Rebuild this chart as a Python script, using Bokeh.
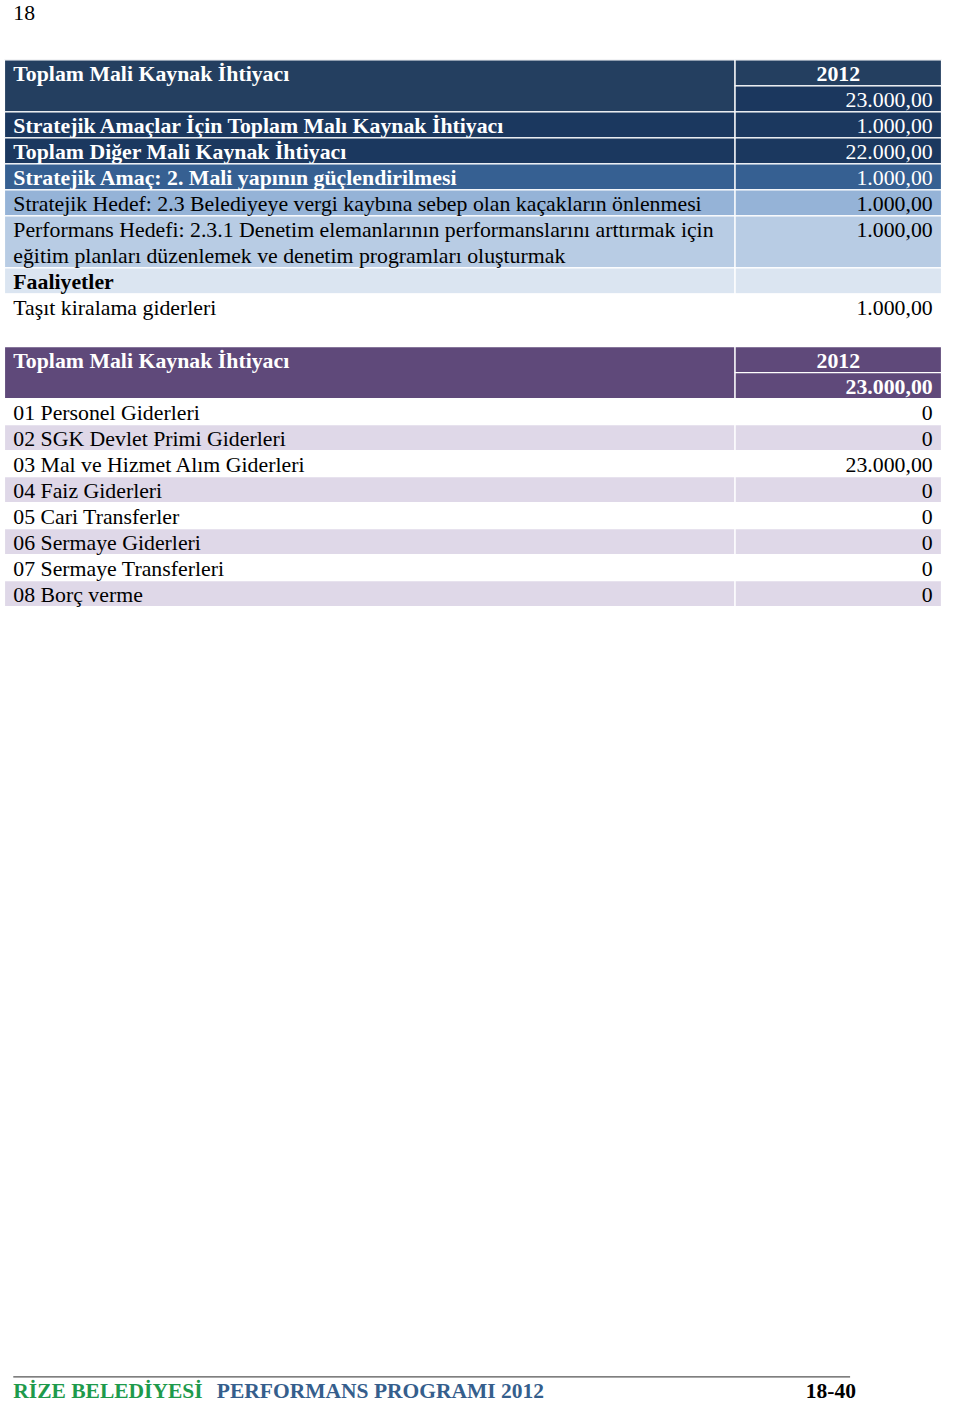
from bokeh.plotting import figure
from bokeh.models import Range1d, ColumnDataSource
from bokeh.core.properties import value
from bokeh.embed import file_html
from bokeh.resources import INLINE

# ---------------- data ----------------
page_number = "18"
year_label = "2012"

t1_header = "Toplam Mali Kaynak İhtiyacı"
t1_total = 23000.0
t1_labels = [
    "Stratejik Amaçlar İçin Toplam Malı Kaynak İhtiyacı",
    "Toplam Diğer Mali Kaynak İhtiyacı",
    "Stratejik Amaç: 2. Mali yapının güçlendirilmesi",
    "Stratejik Hedef: 2.3 Belediyeye vergi kaybına sebep olan kaçakların önlenmesi",
    "Performans Hedefi: 2.3.1 Denetim elemanlarının performanslarını arttırmak için\neğitim planları düzenlemek ve denetim programları oluşturmak",
    "Faaliyetler",
    "Taşıt kiralama giderleri",
]
t1_values = [1000.0, 22000.0, 1000.0, 1000.0, 1000.0, None, 1000.0]

t2_header = "Toplam Mali Kaynak İhtiyacı"
t2_total = 23000.0
t2_labels = [
    "01 Personel Giderleri",
    "02 SGK Devlet Primi Giderleri",
    "03 Mal ve Hizmet Alım Giderleri",
    "04 Faiz Giderleri",
    "05 Cari Transferler",
    "06 Sermaye Giderleri",
    "07 Sermaye Transferleri",
    "08 Borç verme",
]
t2_values = [0, 0, 23000.0, 0, 0, 0, 0, 0]

footer_green = "RİZE BELEDİYESİ"
footer_blue = "PERFORMANS PROGRAMI 2012"
footer_page = "18-40"

# ---------------- styles ----------------
FONT = value("Liberation Serif")
FS = "21.8px"
# per-row style of table 1: (fill, text colour, label weight, rows spanned)
t1_styles = [
    ("#1b385f", "white", "bold", 1),
    ("#1b385f", "white", "bold", 1),
    ("#366092", "white", "bold", 1),
    ("#95b3d7", "black", "normal", 1),
    ("#b8cce4", "black", "normal", 2),
    ("#dbe5f1", "black", "bold", 1),
    ("#ffffff", "black", "normal", 1),
]
HDR1 = "#243f60"
TOT1 = "#1b375e"
HDR2 = "#5f497a"
LAV = "#dfd8e8"

L, M, R = 4, 747, 957
H = 26.3
TX = 13
VX = 948


def fmt(v):
    if v is None:
        return ""
    if v == 0:
        return "0"
    s = f"{v:,.2f}"
    return s.replace(",", "X").replace(".", ",").replace("X", ".")


W, HT = 944, 1405
p = figure(width=W, height=HT, output_backend="svg", toolbar_location=None,
           x_range=Range1d(0, 960), y_range=Range1d(1421, 0),
           min_border=0, outline_line_color=None)
p.axis.visible = False
p.xgrid.visible = False
p.ygrid.visible = False
p.background_fill_color = "white"

cells = dict(left=[], right=[], top=[], bottom=[], fill=[], line=[])
texts = dict(x=[], y=[], text=[], color=[], style=[], align=[])


def cell(l, r, t, b, fill, line="white"):
    cells["left"].append(l)
    cells["right"].append(r)
    cells["top"].append(t)
    cells["bottom"].append(b)
    cells["fill"].append(fill)
    cells["line"].append(line)


def txt(x, y, s, color, style, align="left"):
    texts["x"].append(x)
    texts["y"].append(y)
    texts["text"].append(s)
    texts["color"].append(color)
    texts["style"].append(style)
    texts["align"].append(align)


BL = 11.5  # text anchor offset from cell bottom

# ---- table 1 ----
top = 60
cell(L, M, top, top + 2 * H, HDR1)
cell(M, R, top, top + H, HDR1)
cell(M, R, top + H, top + 2 * H, TOT1)
txt(TX, top + H - BL, t1_header, "white", "bold")
txt((M + R) / 2, top + H - BL, year_label, "white", "bold", "center")
txt(VX, top + 2 * H - BL, fmt(t1_total), "white", "normal", "right")
y = top + 2 * H
for lab, v, (fill, col, wt, span) in zip(t1_labels, t1_values, t1_styles):
    ln = "white" if fill != "#ffffff" else None
    cell(L, M, y, y + span * H, fill, ln)
    cell(M, R, y, y + span * H, fill, ln)
    for k, part in enumerate(lab.split("\n")):
        txt(TX, y + (k + 1) * H - BL, part, col, wt)
    txt(VX, y + H - BL, fmt(v), col, "normal", "right")
    y += span * H

# ---- table 2 ----
top = 350
cell(L, M, top, top + 2 * H, HDR2)
cell(M, R, top, top + H, HDR2)
cell(M, R, top + H, top + 2 * H, HDR2)
txt(TX, top + H - BL, t2_header, "white", "bold")
txt((M + R) / 2, top + H - BL, year_label, "white", "bold", "center")
txt(VX, top + 2 * H - BL, fmt(t2_total), "white", "bold", "right")
y = top + 2 * H
for i, (lab, v) in enumerate(zip(t2_labels, t2_values)):
    if i % 2 == 1:
        cell(L, M, y, y + H, LAV)
        cell(M, R, y, y + H, LAV)
    txt(TX, y + H - BL, lab, "black", "normal")
    txt(VX, y + H - BL, fmt(v), "black", "normal", "right")
    y += H

cs = ColumnDataSource(cells)
p.quad(left="left", right="right", top="top", bottom="bottom", source=cs,
       fill_color="fill", line_color="line", line_width=1.3)

ts = ColumnDataSource(texts)
p.text(x="x", y="y", text="text", source=ts, text_color="color",
       text_font_style="style", text_align="align", text_baseline="alphabetic",
       text_font=FONT, text_font_size=FS)

# page number
p.text(x=[13], y=[12.5], text=[page_number], text_font=FONT, text_font_size="21.7px",
       text_color="black", text_baseline="alphabetic")

# footer
p.segment(x0=[13], y0=[1392], x1=[864], y1=[1392], line_color="#555555", line_width=1.3)
FY = 1406.5
p.text(x=[13], y=[FY], text=[footer_green], text_font=FONT, text_font_size="21.5px",
       text_font_style="bold", text_color="#1e9a4c", text_baseline="alphabetic")
p.text(x=[220], y=[FY], text=[footer_blue], text_font=FONT, text_font_size="21.5px",
       text_font_style="bold", text_color="#355e8c", text_baseline="alphabetic")
p.text(x=[870], y=[FY], text=[footer_page], text_font=FONT, text_font_size="21.5px",
       text_font_style="bold", text_color="black", text_baseline="alphabetic",
       text_align="right")

open("out.html", "w").write(file_html(p, INLINE))
